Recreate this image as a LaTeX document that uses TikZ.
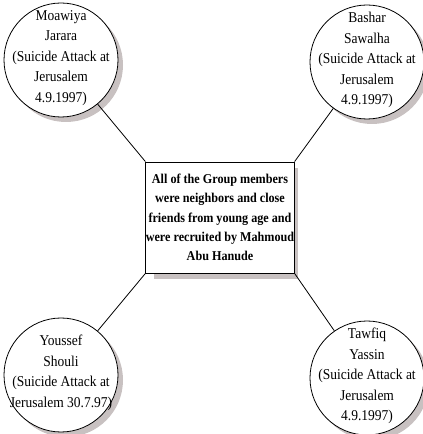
\documentclass[tikz,border=0pt]{standalone}
\usepackage{fontspec}
\setmainfont{Liberation Serif}[FakeStretch=0.9]
\definecolor{shadowgray}{RGB}{200,193,193}
\begin{document}
\begin{tikzpicture}[x=1pt,y=1pt,line width=0.8pt,
member/.style={circle,draw,fill=white,minimum size=114pt,inner sep=0pt},
who/.style={align=center,font=\fontsize{15}{20.5}\selectfont,yshift=2pt},
group/.style={rectangle,draw,fill=white,minimum width=144pt,minimum height=111pt,
  inner sep=0pt,align=center,font=\fontsize{13.5}{19.3}\selectfont\bfseries},
shadowfill/.style={fill=shadowgray,draw=none}]
\useasboundingbox (0,0) rectangle (423,434);
% shadows first
\fill[shadowfill] (154,155) rectangle (298,266);
\foreach \x/\y in {61/374,367/372,61/59,367/56}
  \fill[shadowfill] (\x+5,\y-5) circle (57);
\node[group] (grp) at (220,216.5) {All of the Group members\\were neighbors and close\\friends from young age and\\were recruited by Mahmoud\\Abu Hanude};
\node[member,label={[who]center:{Moawiya\\Jarara\\(Suicide Attack at\\Jerusalem\\4.9.1997)}}] (moawiya) at (61,374) {};
\node[member,label={[who]center:{Bashar\\Sawalha\\(Suicide Attack at\\Jerusalem\\4.9.1997)}}] (bashar) at (367,372) {};
\node[member,label={[who]center:{Youssef\\Shouli\\(Suicide Attack at\\Jerusalem 30.7.97)}}] (youssef) at (61,59) {};
\node[member,label={[who]center:{Tawfiq\\Yassin\\(Suicide Attack at\\Jerusalem\\4.9.1997)}}] (tawfiq) at (367,56) {};
\draw (grp.north west) -- (moawiya);
\draw (grp.north east) -- (bashar);
\draw (grp.south west) -- (youssef);
\draw (grp.south east) -- (tawfiq);
\end{tikzpicture}
\end{document}
